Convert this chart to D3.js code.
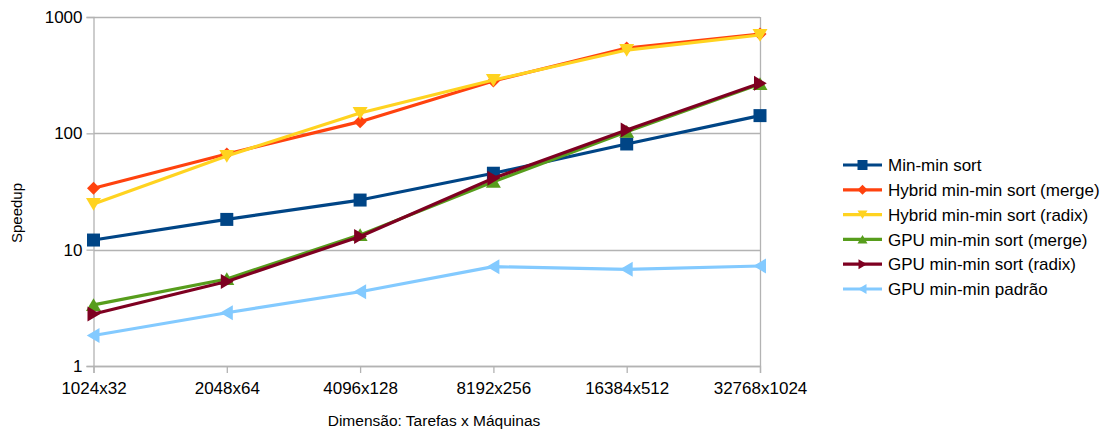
<!DOCTYPE html>
<html>
<head>
<meta charset="utf-8">
<script src="https://cdn.jsdelivr.net/npm/d3@7"></script>
<style>
  html, body { margin: 0; padding: 0; background: #fff; }
  svg { display: block; font-family: "Liberation Sans", Arial, sans-serif; }
</style>
</head>
<body>
<svg id="chart" width="1102" height="430"></svg>
<script>
// Problem sizes (tasks x machines)
const categories = ["1024x32", "2048x64", "4096x128", "8192x256", "16384x512", "32768x1024"];

// Speedup per variant
const minMinSort       = [12.1, 18.2, 26.7, 45.4, 81, 142];
const hybridMerge      = [33.7, 66.4, 126, 282, 541, 714];
const hybridRadix      = [24.7, 63.9, 149.6, 287, 520, 700];
const gpuMerge         = [3.35, 5.6, 13.4, 38.4, 103, 266];
const gpuRadix         = [2.8, 5.33, 13.0, 41.1, 107, 269];
const gpuDefault       = [1.83, 2.87, 4.35, 7.14, 6.78, 7.24];

const seriesNames = [
  "Min-min sort",
  "Hybrid min-min sort (merge)",
  "Hybrid min-min sort (radix)",
  "GPU min-min sort (merge)",
  "GPU min-min sort (radix)",
  "GPU min-min padrão"
];

const yTicks = [1, 10, 100, 1000];
const yTickLabels = ["1", "10", "100", "1000"];

const xTitle = "Dimensão: Tarefas x Máquinas";
const yTitle = "Speedup";

// Styling for each series
const styles = [
  { color: "#004586", shape: "square" },
  { color: "#ff420e", shape: "diamond" },
  { color: "#ffd320", shape: "down" },
  { color: "#579d1c", shape: "up" },
  { color: "#7e0021", shape: "right" },
  { color: "#83caff", shape: "left" }
];

const seriesValues = [minMinSort, hybridMerge, hybridRadix, gpuMerge, gpuRadix, gpuDefault];
const series = seriesNames.map((name, i) => ({ name, values: seriesValues[i], ...styles[i] }));

const svg = d3.select("#chart");
const plot = { left: 93.5, right: 760, top: 17, bottom: 366 };

const x = d3.scalePoint().domain(categories).range([plot.left, plot.right]).padding(0);
const y = d3.scaleLog().domain([1, 1000]).range([plot.bottom, plot.top]);

const gridColor = "#b3b3b3";

// Horizontal gridlines
svg.append("g").selectAll("line").data(yTicks).join("line")
  .attr("x1", plot.left).attr("x2", plot.right)
  .attr("y1", d => Math.round(y(d)) + 0.5).attr("y2", d => Math.round(y(d)) + 0.5)
  .attr("stroke", gridColor).attr("stroke-width", 1.3);

// Right border
svg.append("line")
  .attr("x1", plot.right + 0.5).attr("x2", plot.right + 0.5)
  .attr("y1", plot.top).attr("y2", plot.bottom)
  .attr("stroke", gridColor).attr("stroke-width", 1.3);

// Y axis
const yAxis = d3.axisLeft(y).tickValues(yTicks)
  .tickFormat((d, i) => yTickLabels[i]).tickSize(7).tickPadding(4);
const gy = svg.append("g").attr("transform", `translate(${plot.left},0)`).call(yAxis);
gy.select(".domain").attr("stroke", gridColor).attr("stroke-width", 1.3);
gy.selectAll(".tick line").attr("stroke", gridColor).attr("stroke-width", 1.3);
gy.selectAll(".tick text").attr("font-size", 17).attr("fill", "#000")
  .attr("font-family", "Liberation Sans, Arial, sans-serif");

// X axis
const xAxis = d3.axisBottom(x).tickSize(7).tickPadding(9);
const gx = svg.append("g").attr("transform", `translate(0,${plot.bottom})`).call(xAxis);
gx.select(".domain").attr("stroke", gridColor).attr("stroke-width", 1.3);
gx.selectAll(".tick line").attr("stroke", gridColor).attr("stroke-width", 1.3);
gx.selectAll(".tick text").attr("font-size", 17).attr("fill", "#000")
  .attr("font-family", "Liberation Sans, Arial, sans-serif");

// Marker path generator centred on (0,0)
function markerPath(shape, s) {
  const h = s / 2;
  switch (shape) {
    case "square":  return `M${-h},${-h}H${h}V${h}H${-h}Z`;
    case "diamond": return `M0,${-h}L${h},0L0,${h}L${-h},0Z`;
    case "down":    return `M${-h},${-h * 0.8}L${h},${-h * 0.8}L0,${h * 0.9}Z`;
    case "up":      return `M${-h},${h * 0.8}L${h},${h * 0.8}L0,${-h * 0.9}Z`;
    case "right":   return `M${-h * 0.8},${-h}L${-h * 0.8},${h}L${h * 0.9},0Z`;
    case "left":    return `M${h * 0.8},${-h}L${h * 0.8},${h}L${-h * 0.9},0Z`;
  }
}

const line = d3.line().x((d, i) => x(categories[i])).y(d => y(d));

// Series lines and markers
series.forEach(s => {
  const g = svg.append("g");
  g.append("path").datum(s.values)
    .attr("d", line).attr("fill", "none")
    .attr("stroke", s.color).attr("stroke-width", 3.2).attr("stroke-linejoin", "round");
  const size = s.shape === "square" ? 13 : (s.shape === "diamond" ? 13 : 15);
  g.selectAll("path.m").data(s.values).join("path").attr("class", "m")
    .attr("transform", (d, i) => `translate(${x(categories[i])},${y(d)})`)
    .attr("d", markerPath(s.shape, size)).attr("fill", s.color);
});

// Legend
const legend = svg.append("g").attr("transform", "translate(843,165)");
series.forEach((s, i) => {
  const row = legend.append("g").attr("transform", `translate(0,${i * 24.8})`);
  row.append("line").attr("x1", 0).attr("x2", 39).attr("y1", 0).attr("y2", 0)
    .attr("stroke", s.color).attr("stroke-width", 3.2);
  row.append("path").attr("transform", "translate(19.5,0)")
    .attr("d", markerPath(s.shape, 10)).attr("fill", s.color);
  row.append("text").attr("x", 45).attr("y", 0).attr("dy", "0.36em")
    .attr("font-size", 17).attr("fill", "#000").text(s.name);
});

// Axis titles
svg.append("text").attr("x", 434).attr("y", 426).attr("text-anchor", "middle")
  .attr("font-size", 15.5).attr("fill", "#000").text(xTitle);
svg.append("text").attr("transform", "translate(22,213) rotate(-90)")
  .attr("text-anchor", "middle").attr("font-size", 15).attr("fill", "#000").text(yTitle);
</script>
</body>
</html>
